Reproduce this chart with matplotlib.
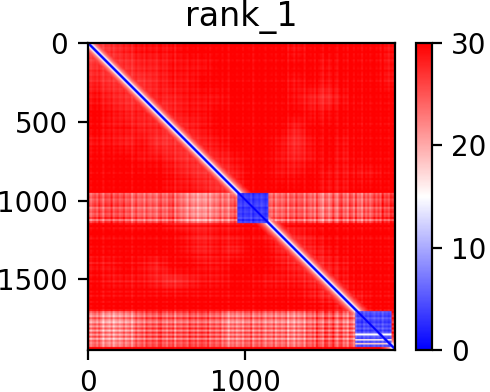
import numpy as np
import matplotlib
matplotlib.use("Agg")
import matplotlib.pyplot as plt

title = "rank_1"
n_cells = 1950
xticks = [0, 1000]
yticks = [0, 500, 1000, 1500]
cbar_ticks = [0, 10, 20, 30]

# coarse map of the red field, one row per ~100 cells
coarse = [
 [26,27,28,29,29,29,30,30,30,30,30,30,30,29,30,30,30,30,30,29],
 [27,27,27,28,28,29,29,29,30,30,30,30,30,30,30,29,30,30,30,29],
 [28,27,27,27,28,29,29,30,30,30,30,30,30,29,30,29,30,30,30,29],
 [29,28,27,27,28,28,29,29,29,30,30,30,30,29,28,27,29,30,30,30],
 [30,29,28,28,27,28,29,29,30,30,30,30,30,30,29,29,30,30,30,30],
 [30,29,29,28,28,27,28,29,30,30,30,30,30,28,30,30,30,30,30,30],
 [29,29,28,29,27,27,27,28,29,30,30,30,29,27,29,30,29,30,30,30],
 [30,30,30,29,29,28,27,27,28,29,30,30,29,28,29,30,29,30,30,30],
 [30,30,30,30,30,29,28,27,27,28,30,30,29,29,30,29,29,29,29,30],
 [30,30,30,30,30,29,29,28,27,27,30,30,30,30,30,29,29,30,30,30],
 [30,30,30,30,30,30,29,29,29,29,30,30,30,30,30,30,30,30,30,30],
 [30,30,29,29,30,28,28,28,29,29,30,30,30,30,30,30,30,30,30,30],
 [30,30,30,30,30,30,29,28,29,29,30,29,27,28,29,30,30,30,30,30],
 [30,30,30,30,30,30,29,28,29,28,30,30,28,27,28,29,30,30,30,30],
 [29,29,30,29,28,30,30,29,29,30,30,30,29,28,27,28,29,30,30,30],
 [30,29,29,29,28,27,28,29,29,30,30,29,29,29,28,27,29,30,30,30],
 [30,30,30,30,30,30,30,30,30,30,30,30,30,30,29,28,27,29,30,30],
 [30,30,30,30,30,30,30,30,30,30,30,30,30,30,30,30,29,28,30,30],
 [30,30,30,30,30,30,30,30,30,30,30,30,30,30,30,30,30,30,30,30],
 [30,30,30,30,30,30,30,30,30,30,30,30,30,30,30,30,30,30,30,30],
]

# pale horizontal bands: (first row, last row), block columns
band_rows = [(953, 1144), (1703, 1931)]
block_cols = [(946, 1142), (1692, 1922)]
band1_cols = [25,26,25,24,24,25,22,21,23,24,24,24,24,25,24,23,25,24,25,27]
band2_cols = [23,21,22,24,25,24,25,25,24,22,24,23,23,22,24,25,24,23,23,28]
block_level = [3.5, 4.5]

# fine streaks in 13-cell bins
row_streak = [0,1,-1,0,2,-1,0,1,-2,0,1,0,-1,2,0,-1,1,0,-2,1,0,1,-1,0,2,0,-1,1,0,-2,
              1,0,-1,2,0,1,-1,0,1,-2,0,2,-1,0,1,0,-2,1,0,-1,2,0,1,-1,0,1,-2,0,2,0,
              -1,1,0,-2,1,0,2,-1,0,1,-1,0,2,-2,0,1,-1,0,1,2,-2,0,1,-1,0,3,-3,2,-1,3,
              -2,0,1,2,-1,-3,1,0,2,-2,1,-1,0,3,-2,0,1,-3,2,0,-1,1,2,-2,0,1,-3,2,-1,0,
              3,-2,1,-3,0,2,-2,3,-1,1,-3,2,0,-2,3,-1,-3,2,-2,3,-3,3,-2,3,-3,2,0,1,1,1]
col_streak = [1,-2,0,1,-1,2,0,-3,1,0,-1,2,-2,0,1,-1,0,2,-1,0,1,-3,0,2,-1,0,1,-2,2,0,
              -1,1,0,-2,1,2,-1,0,-2,1,0,2,-3,1,0,-1,1,0,-2,2,0,-1,1,-2,0,1,0,-1,2,-2,
              0,1,-1,0,2,-2,1,0,-3,1,0,2,-1,0,1,-2,1,0,-1,2,-3,0,1,-1,2,0,-2,1,0,-1,
              2,-2,0,1,-1,0,2,-3,1,0,-2,2,-1,0,1,-3,2,0,-1,1,-2,3,0,-1,-3,2,1,-2,0,3,
              -1,-3,1,2,-2,0,-3,2,1,-2,3,-1,0,-3,2,-1,1,-2,0,2,-1,1,-2,3,-1,0,-2,1,0,1]
block2_row_stripes = [(1845, 1858, 15), (1880, 1890, 16), (1905, 1915, 18)]

# value against distance from the diagonal, in cells
halo_dist = [0, 8, 13, 20, 32, 55, 100]
halo_value = [0, 0, 12, 17, 22, 26, 31]

idx = np.arange(n_cells)
centres = (np.arange(20) + 0.5) * n_cells / 20
c = np.asarray(coarse, float)
tmp = np.array([np.interp(idx, centres, row) for row in c])
M = np.array([np.interp(idx, centres, tmp[:, j]) for j in range(n_cells)]).T

rs = np.repeat(np.asarray(row_streak, float), 13)[:n_cells]
cs = np.repeat(np.asarray(col_streak, float), 13)[:n_cells]
M = M + 0.35 * rs[:, None] + 0.35 * cs[None, :]

for (r0, r1), cols in zip(band_rows, [band1_cols, band2_cols]):
    prof = np.interp(idx, centres, np.asarray(cols, float))
    M[r0:r1, :] = prof + 0.9 * rs[r0:r1, None] + 0.9 * cs[None, :]

for (r0, r1), (a, b), lvl in zip(band_rows, block_cols, block_level):
    M[r0:r1, a:b] = lvl + 0.4 * rs[r0:r1, None] + 0.4 * cs[None, a:b]
for r0, r1, v in block2_row_stripes:
    M[r0:r1, block_cols[1][0]:block_cols[1][1]] = v

dist = np.abs(idx[:, None] - idx[None, :])
M = np.minimum(M, np.interp(dist, halo_dist, halo_value))
M = np.clip(M, 0, 30)

W, H = 490, 392
fig = plt.figure(figsize=(W / 200, H / 200), dpi=200)
plt.rcParams["font.size"] = 10
ax = fig.add_axes([87.5 / W, 1 - 350 / H, 307 / W, 307 / H])
im = ax.imshow(M, cmap="bwr", vmin=0, vmax=30)
ax.set_title(title, fontsize=12, pad=6)
ax.set_xticks(xticks)
ax.set_yticks(yticks)
ax.tick_params(labelsize=10)
cax = fig.add_axes([415.5 / W, 1 - 350 / H, 16 / W, 307 / H])
cb = fig.colorbar(im, cax=cax)
cb.set_ticks(cbar_ticks)
cb.ax.tick_params(labelsize=10)
fig.savefig("out.png", dpi=200)
